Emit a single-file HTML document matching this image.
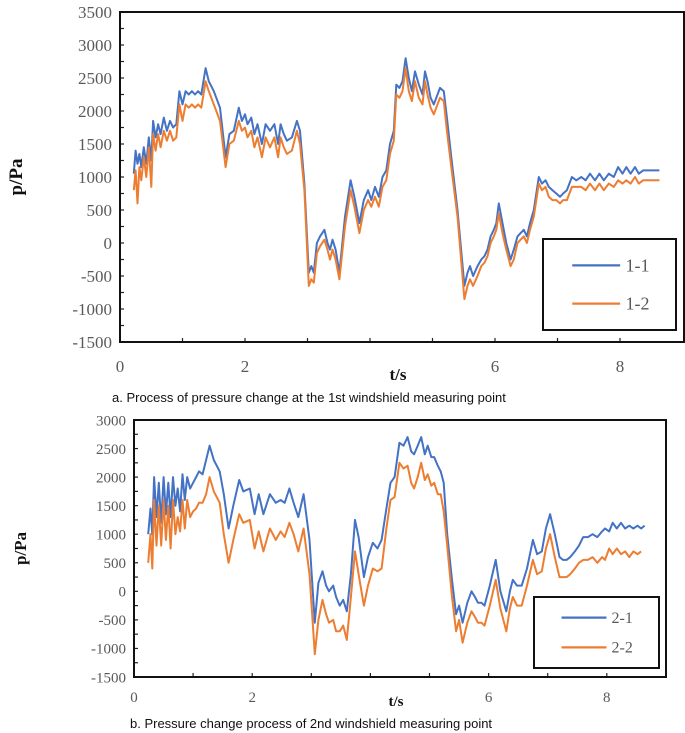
<!DOCTYPE html>
<html><head><meta charset="utf-8">
<style>
body{margin:0;background:#fff;width:685px;height:733px;overflow:hidden}
svg{display:block}
.tk{font-family:"Liberation Serif",serif;fill:#595959}
.cap{font-family:"Liberation Sans",sans-serif;font-size:13px;fill:#111}
</style></head><body>
<svg id="s" width="685" height="733"></svg>
<script>
const tA=[0.22,0.25,0.28,0.31,0.34,0.38,0.42,0.46,0.5,0.53,0.57,0.61,0.65,0.7,0.75,0.8,0.85,0.9,0.95,1.0,1.05,1.1,1.15,1.2,1.25,1.3,1.37,1.42,1.5,1.6,1.69,1.75,1.82,1.9,1.95,2.0,2.04,2.1,2.15,2.2,2.27,2.33,2.4,2.47,2.53,2.57,2.62,2.67,2.75,2.83,2.88,2.95,3.02,3.06,3.1,3.15,3.2,3.27,3.32,3.36,3.4,3.45,3.51,3.6,3.69,3.75,3.83,3.9,3.97,4.02,4.08,4.14,4.2,4.26,4.32,4.38,4.42,4.47,4.52,4.57,4.62,4.67,4.72,4.78,4.84,4.88,4.92,4.97,5.02,5.06,5.12,5.18,5.23,5.3,5.4,5.51,5.56,5.6,5.65,5.72,5.78,5.83,5.88,5.93,5.98,6.02,6.06,6.12,6.18,6.25,6.3,6.36,6.41,6.46,6.51,6.56,6.62,6.7,6.75,6.81,6.86,6.92,6.98,7.04,7.09,7.15,7.23,7.3,7.38,7.45,7.52,7.6,7.67,7.74,7.82,7.9,7.97,8.04,8.1,8.17,8.24,8.3,8.37,8.45,8.55,8.63];
const s11=[1050,1400,1200,1350,1150,1450,1200,1600,1250,1850,1600,1800,1650,1900,1700,1850,1750,1800,2300,2100,2300,2250,2300,2250,2300,2250,2650,2450,2300,2050,1300,1650,1700,2050,1850,1950,1800,1900,1650,1800,1500,1800,1700,1800,1500,1800,1650,1550,1600,1850,1700,900,-450,-350,-450,0,100,200,0,-100,50,-100,-450,400,950,700,300,650,800,650,850,700,1000,1100,1500,1700,2400,2350,2450,2800,2500,2300,2600,2400,2250,2600,2450,2200,2100,2200,2350,2300,1900,1300,500,-650,-450,-350,-500,-350,-250,-200,-100,100,200,300,600,300,0,-250,-100,100,150,200,100,300,500,1000,900,950,850,800,750,700,750,800,1000,950,1000,950,1050,950,1050,950,1050,1000,1150,1050,1150,1050,1150,1050,1100,1100,1100,1100];
const s12=[800,1100,600,1150,950,1300,1000,1450,850,1650,1400,1650,1450,1700,1550,1700,1550,1600,2100,1850,2100,2050,2100,2050,2100,2050,2450,2300,2100,1850,1150,1500,1550,1850,1700,1750,1600,1700,1450,1600,1300,1600,1450,1600,1300,1600,1450,1350,1400,1700,1500,800,-650,-550,-600,-150,-50,50,-100,-250,-100,-250,-550,250,800,550,150,500,650,550,700,550,850,950,1350,1550,2250,2200,2300,2650,2300,2150,2450,2200,2100,2450,2250,2050,1950,2050,2200,2150,1700,1150,400,-850,-650,-550,-650,-500,-350,-300,-200,0,100,200,450,150,-100,-350,-250,0,50,100,0,200,400,900,800,850,700,650,650,600,650,650,850,850,850,800,900,800,900,800,900,850,950,900,950,900,1000,900,950,950,950,950];
const tB=[0.24,0.28,0.31,0.34,0.38,0.42,0.46,0.5,0.54,0.58,0.62,0.66,0.7,0.74,0.78,0.82,0.86,0.9,0.95,1.0,1.05,1.1,1.16,1.22,1.28,1.35,1.45,1.52,1.6,1.68,1.78,1.85,1.96,2.04,2.11,2.19,2.3,2.4,2.48,2.55,2.63,2.7,2.78,2.87,2.97,3.06,3.12,3.19,3.25,3.3,3.37,3.42,3.48,3.54,3.6,3.67,3.74,3.8,3.89,3.96,4.04,4.12,4.19,4.27,4.34,4.41,4.49,4.56,4.63,4.69,4.74,4.8,4.86,4.92,4.97,5.03,5.08,5.14,5.19,5.24,5.3,5.38,5.45,5.5,5.56,5.64,5.71,5.77,5.82,5.88,5.93,6.02,6.12,6.2,6.3,6.36,6.41,6.48,6.56,6.65,6.75,6.82,6.9,6.97,7.04,7.12,7.2,7.26,7.32,7.38,7.46,7.53,7.6,7.68,7.76,7.84,7.92,7.97,8.04,8.1,8.17,8.24,8.31,8.38,8.45,8.52,8.58,8.64];
const s21=[1000,1450,1000,2000,1300,1900,1200,2000,1350,1900,1300,2000,1500,1800,1400,2050,1600,2000,1800,1900,2000,2100,2050,2300,2550,2300,2100,1700,1100,1500,1950,1750,1800,1350,1700,1350,1700,1550,1600,1550,1800,1550,1300,1700,900,-550,150,350,100,0,100,-100,-250,-150,-350,300,1250,950,250,600,850,750,900,1450,1900,2000,2600,2550,2700,2450,2400,2550,2700,2400,2550,2350,2350,2200,2100,1900,1000,200,-400,-250,-550,-200,0,-100,-200,-200,-250,100,550,0,-350,0,200,100,100,400,900,650,700,1100,1350,1000,600,550,550,600,700,800,950,950,1000,950,1050,1100,1050,1200,1100,1200,1100,1150,1100,1150,1100,1150];
const s22=[500,1000,400,1600,800,1500,800,1600,900,1500,750,1600,1000,1300,1050,1600,1100,1600,1300,1400,1450,1550,1550,1700,2000,1750,1550,1000,500,900,1350,1200,1250,750,1050,700,1100,900,1050,950,1200,1000,700,1100,300,-1100,-500,-150,-400,-550,-500,-700,-700,-600,-850,-100,700,300,-250,100,400,350,400,1100,1600,1650,2250,2150,2200,1900,1800,2000,2250,1950,2050,1850,1900,1700,1700,1400,800,-100,-700,-500,-900,-550,-350,-450,-550,-550,-600,-250,200,-300,-700,-300,-100,-250,-250,100,550,300,350,750,1000,600,250,250,250,300,400,500,550,550,600,500,600,550,750,650,750,650,700,600,700,650,700];
const NS='http://www.w3.org/2000/svg';
const svg=document.getElementById('s');
function mk(tag,attrs,parent){const e=document.createElementNS(NS,tag);for(const k in attrs)e.setAttribute(k,attrs[k]);(parent||svg).appendChild(e);return e;}
function chart(cfg){
  const g=mk('g',{});
  
  
  const X=t=>cfg.x0+t*cfg.xs, Y=v=>cfg.yTop+(cfg.yMax-v)*cfg.ys;
  const yBot=Y(-1500);
  // y ticks
  for(let v=-1500;v<=cfg.yMax;v+=500){
    const t=mk('text',{x:cfg.x0-8,y:Y(v)+cfg.fs*0.35,'text-anchor':'end','font-size':cfg.fs,class:'tk'},g);
    t.textContent=v;
    
    
  }
  for(let v=-1500;v<=cfg.yMax;v+=250){mk('line',{x1:cfg.x0,x2:cfg.x0+4,y1:Y(v),y2:Y(v),stroke:'#222','stroke-width':1.2},g);}
  for(let t=1;t<=8;t++){mk('line',{x1:X(t),x2:X(t),y1:yBot,y2:yBot-4,stroke:'#222','stroke-width':1.2},g);}
  for(const t of [0,2,6,8]){
    const e=mk('text',{x:X(t),y:yBot+cfg.xlOff,'text-anchor':'middle','font-size':cfg.fs,class:'tk'},g);
    e.textContent=t;
    
    
  }
  // series
  const series=[[cfg.s1,'#4472C4'],[cfg.s2,'#ED7D31']];
  series.forEach(([s,c],i)=>{
    const d=cfg.t.map((t,j)=>(j?'L':'M')+X(t).toFixed(1)+' '+Y(s[j]).toFixed(1)).join('');
    const p=mk('path',{d:d,fill:'none',stroke:c,'stroke-width':2,'stroke-linejoin':'round'},g);
    
    
  });
  const box=mk('rect',{x:cfg.x0,y:cfg.yTop,width:cfg.right-cfg.x0,height:yBot-cfg.yTop,fill:'none',stroke:'#111','stroke-width':2},g);
  
  
  // legend
  const L=cfg.leg;
  const lg=mk('g',{},g);
  
  
  mk('rect',{x:L.x,y:L.y,width:L.w,height:L.h,fill:'#fff',stroke:'#111','stroke-width':2},lg);
  cfg.labels.forEach((lab,i)=>{
    const yy=L.y+L.h*(i?0.71:0.29);
    mk('line',{x1:L.x+L.w*0.22,x2:L.x+L.w*0.58,y1:yy,y2:yy,stroke:series[i][1],'stroke-width':2.2},lg);
    const e=mk('text',{x:L.x+L.w*0.62,y:yy+cfg.fs*0.35,'font-size':cfg.fs+1,class:'tk'},lg);
    e.textContent=lab;
    
    
  });
  const yt=mk('text',{x:0,y:0,transform:`translate(${cfg.ytx},${(cfg.yTop+yBot)/2}) rotate(-90)`,'text-anchor':'middle','font-size':cfg.fs+2,'font-weight':'bold','font-family':'Liberation Serif,serif',fill:'#111'},g);
  yt.textContent='p/Pa';
  
  
  const xt=mk('text',{x:(cfg.x0+cfg.right)/2-4,y:cfg.xtY,'text-anchor':'middle','font-size':cfg.fs,'font-weight':'bold','font-family':'Liberation Serif,serif',fill:'#111'},g);
  xt.textContent='t/s';
  
  
  const cp=mk('text',{x:cfg.capX,y:cfg.capY,class:'cap'},g);
  cp.textContent=cfg.cap;
  
  
}
chart({name:'chart-a',t:tA,s1:s11,s2:s12,labels:['1-1','1-2'],x0:120,xs:62.5,right:684,yTop:12,yMax:3500,ys:330/5000,fs:17,xlOff:30,
  leg:{x:543,y:239,w:133,h:91},ytx:22,xtY:380,capX:112,capY:402,cap:'a. Process of pressure change at the 1st windshield measuring point'});
chart({name:'chart-b',t:tB,s1:s21,s2:s22,labels:['2-1','2-2'],x0:134,xs:59.1,right:666,yTop:420,yMax:3000,ys:257/4500,fs:15,xlOff:25,
  leg:{x:534,y:597,w:125,h:71},ytx:26,xtY:706,capX:130,capY:728,cap:'b. Pressure change process of 2nd windshield measuring point'});
</script>
</body></html>
